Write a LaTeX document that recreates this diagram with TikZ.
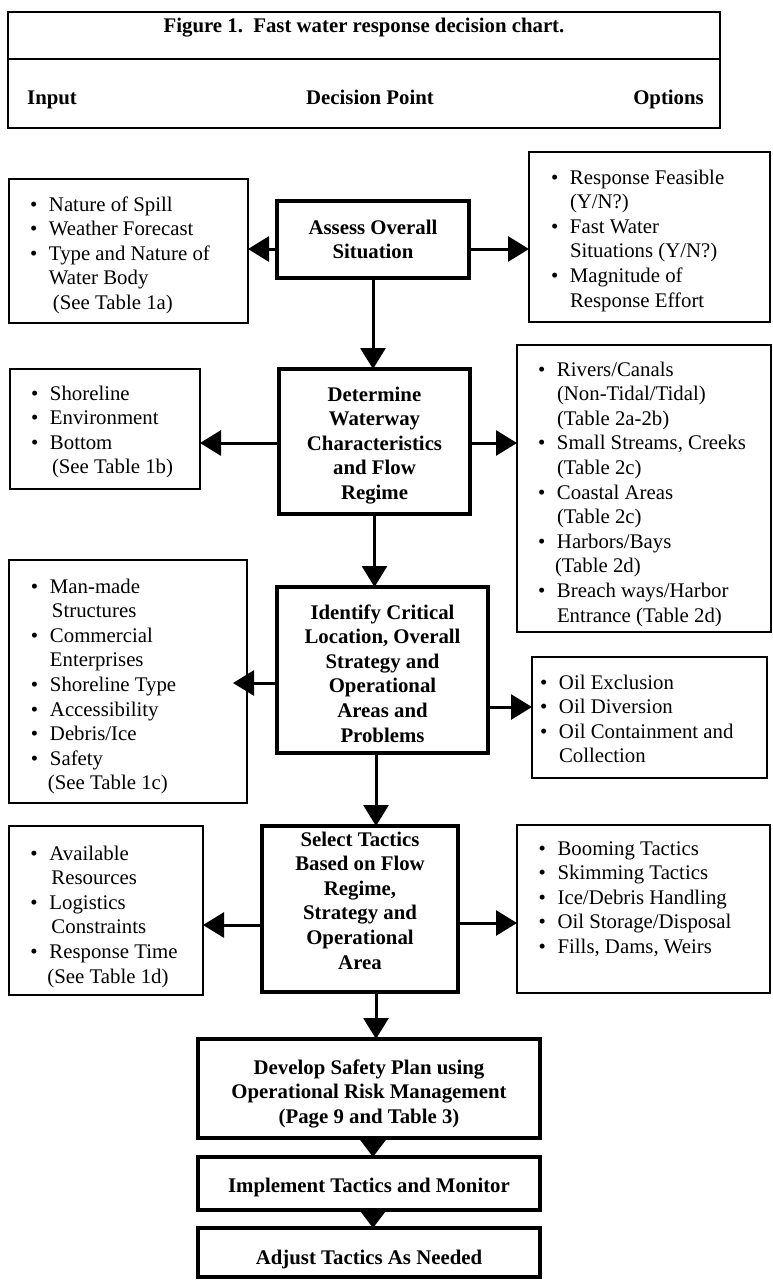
\documentclass[tikz,border=0pt]{standalone}
\usepackage{fontspec}
\setmainfont{Liberation Serif}
\usetikzlibrary{arrows.meta}
\newcommand{\bl}{\makebox[19pt][l]{\textbullet}}
\newcommand{\ct}[1][19pt]{\hspace*{#1}}
\newcommand{\lst}[5]{\parbox[c][#2][t]{#1}{\fontsize{20.8pt}{24.6pt}\selectfont\raggedright\leftskip=#4\relax\vspace*{#3}\strut #5\strut}}
\newcommand{\ctr}[4]{\parbox[c][#2][t]{#1}{\fontsize{20.8pt}{24.6pt}\selectfont\bfseries\centering\vspace*{#3}\strut #4\strut}}
\tikzset{
  sbox/.style={draw, line width=2.8pt, inner sep=0pt, outer sep=0pt, anchor=north west},
  cbox/.style={draw, line width=4.8pt, inner sep=0pt, outer sep=0pt, anchor=north west},
  bbox/.style={draw, line width=4.3pt, inner sep=0pt, outer sep=0pt, anchor=north west},
  hbox/.style={draw, line width=2.8pt, inner sep=0pt, outer sep=0pt, anchor=north west},
  htext/.style={inner sep=0pt, font=\fontsize{20.8pt}{24.6pt}\selectfont\bfseries},
  arr/.style={line width=3pt, -{Triangle[length=21pt,width=25pt]}},
  arrb/.style={line width=3pt, -{Triangle[length=19pt,width=28pt]}}
}
\begin{document}
\begin{tikzpicture}[x=1pt,y=-1pt]
\useasboundingbox (0,0) rectangle (773,1280);
% header
\node[hbox, minimum width=712pt, minimum height=116pt] (hdr) at (8,12) {};
\draw[line width=2.8pt] ([yshift=-47pt]hdr.north west) -- ([yshift=-47pt]hdr.north east);
\node[htext, anchor=base] (ttl) at (364,32) {Figure 1.\ \ Fast water response decision chart.};
\node[htext, anchor=base west] (hin) at (27,104) {Input};
\node[htext, anchor=base] (hdp) at (370,104) {Decision Point};
\node[htext, anchor=base east] (hop) at (704,104) {Options};
% row 1
\node[sbox] (in1) at (9,179) {\lst{239pt}{144pt}{14.8pt}{21pt}{\bl Nature of Spill\\ \bl Weather Forecast\\ \bl Type and Nature of\\ \ct Water Body\\ \ct[23pt](See Table 1a)}};
\node[cbox] (c1) at (277,201) {\ctr{192pt}{77pt}{15.8pt}{Assess Overall\\ Situation}};
\node[sbox] (out1) at (529,152) {\lst{241pt}{170pt}{14.8pt}{22pt}{\bl Response Feasible\\ \ct (Y/N?)\\ \bl Fast Water\\ \ct Situations (Y/N?)\\ \bl Magnitude of\\ \ct Response Effort}};
% row 2
\node[sbox] (in2) at (10,369) {\lst{190pt}{120pt}{13.8pt}{21pt}{\bl Shoreline\\ \bl Environment\\ \bl Bottom\\ \ct[21pt](See Table 1b)}};
\node[cbox] (c2) at (279,369) {\ctr{191pt}{145pt}{14.8pt}{Determine\\ Waterway\\ Characteristics\\ and Flow\\ Regime}};
\node[sbox] (out2) at (517,345) {\lst{254pt}{287pt}{13.8pt}{21pt}{\bl Rivers/Canals\\ \ct (Non-Tidal/Tidal)\\ \ct (Table 2a-2b)\\ \bl Small Streams, Creeks\\ \ct (Table 2c)\\ \bl Coastal Areas\\ \ct (Table 2c)\\ \bl Harbors/Bays\\ \ct[17pt](Table 2d)\\ \bl Breach ways/Harbor\\ \ct Entrance (Table 2d)}};
% row 3
\node[sbox] (in3) at (9,560) {\lst{238pt}{243pt}{15.8pt}{22pt}{\bl Man-made\\ \ct[21pt]Structures\\ \bl Commercial\\ \ct Enterprises\\ \bl Shoreline Type\\ \bl Accessibility\\ \bl Debris/Ice\\ \bl Safety\\ \ct[17pt](See Table 1c)}};
\node[cbox] (c3) at (277,587) {\ctr{211pt}{166pt}{14.8pt}{Identify Critical\\ Location, Overall\\ Strategy and\\ Operational\\ Areas and\\ Problems}};
\node[sbox] (out3) at (532,657) {\lst{235pt}{121pt}{14.8pt}{8pt}{\bl Oil Exclusion\\ \bl Oil Diversion\\ \bl Oil Containment and\\ \ct Collection}};
% row 4
\node[sbox] (in4) at (9,826) {\lst{194pt}{169pt}{16.8pt}{21.5pt}{\bl Available\\ \ct[21pt]Resources\\ \bl Logistics\\ \ct[21pt]Constraints\\ \bl Response Time\\ \ct[17pt](See Table 1d)}};
\node[cbox] (c4) at (262,826) {\ctr{196pt}{166pt}{2.8pt}{Select Tactics\\ Based on Flow\\ Regime,\\ Strategy and\\ Operational\\ Area}};
\node[sbox] (out4) at (517,825) {\lst{253pt}{168pt}{12.8pt}{21.6pt}{\bl Booming Tactics\\ \bl Skimming Tactics\\ \bl Ice/Debris Handling\\ \bl Oil Storage/Disposal\\ \bl Fills, Dams, Weirs}};
% bottom
\node[bbox] (dev) at (198,1039) {\ctr{342pt}{99pt}{17.8pt}{Develop Safety Plan using\\ Operational Risk Management\\ (Page 9 and Table 3)}};
\node[bbox] (imp) at (198,1157) {\ctr{342pt}{53pt}{17.8pt}{Implement Tactics and Monitor}};
\node[bbox] (adj) at (198,1228) {\ctr{342pt}{49pt}{18.8pt}{Adjust Tactics As Needed}};
% connectors row 1
\coordinate (a1l) at ([yshift=-9.5pt]c1.west);
\coordinate (a1r) at ([yshift=-9.5pt]c1.east);
\draw[arr] (a1l) -- (a1l -| in1.east);
\draw[arr] (a1r) -- (a1r -| out1.west);
\draw[arr] (c1.south) -- (c1.south |- c2.north);
% row 2
\coordinate (a2l) at ([yshift=-1.5pt]c2.west);
\coordinate (a2r) at ([yshift=-1.5pt]c2.east);
\draw[arr] (a2l) -- (a2l -| in2.east);
\draw[arr] (a2r) -- (a2r -| out2.west);
\draw[arr] (c2.south) -- (c2.south |- c3.north);
% row 3
\coordinate (a3l) at ([yshift=-13pt]c3.west);
\coordinate (a3r) at ([yshift=-37pt]c3.east);
\draw[arr, shorten >=-14pt] (a3l) -- (a3l -| in3.east);
\draw[arr] (a3r) -- (a3r -| out3.west);
\coordinate (d3) at ([xshift=-6.5pt]c3.south);
\draw[arr] (d3) -- (d3 |- c4.north);
% row 4
\coordinate (a4l) at ([yshift=-16pt]c4.west);
\coordinate (a4r) at ([yshift=-14pt]c4.east);
\draw[arr] (a4l) -- (a4l -| in4.east);
\draw[arr] (a4r) -- (a4r -| out4.west);
\coordinate (d4) at ([xshift=16pt]c4.south);
\draw[arr] (d4) -- (d4 |- dev.north);
% bottom
\coordinate (d5) at ([xshift=4pt]dev.south);
\draw[arrb] (d5) -- (d5 |- imp.north);
\coordinate (d6) at ([xshift=4pt]imp.south);
\draw[arrb] (d6) -- (d6 |- adj.north);
\end{tikzpicture}
\end{document}
